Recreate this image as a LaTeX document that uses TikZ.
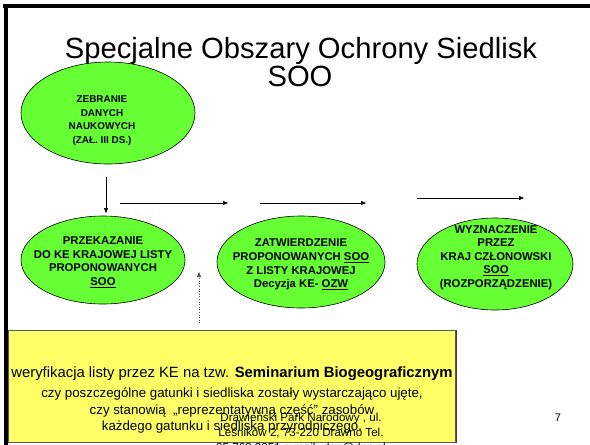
\documentclass[tikz,border=0pt]{standalone}
\usepackage{fontspec}
\setmainfont{Liberation Sans}
\usetikzlibrary{shapes.geometric,arrows.meta}
\definecolor{ovalgreen}{HTML}{66FF33}
\definecolor{noteyellow}{HTML}{FFFF66}
\tikzset{
  oval/.style={ellipse, draw=black, line width=0.6pt, fill=ovalgreen, inner sep=0pt},
  ovaltext/.style={align=center, font=\bfseries\fontsize{11.3}{13.6}\selectfont, inner sep=0pt},
  flow/.style={line width=0.6pt, -{Triangle[length=5pt,width=4pt]}},
  frameline/.style={line width=4pt, black},
  foottext/.style={inner sep=0pt, anchor=base, font=\fontsize{11.6}{15}\selectfont},
}
\begin{document}
\begin{tikzpicture}[x=1pt,y=-1pt]
\useasboundingbox (0,0) rectangle (590,445);
% frame
\draw[frameline] (3,5.5) -- (590,5.5);
\draw[frameline] (6,3.5) -- (6,445);
% title
\node[anchor=base, inner sep=0pt, font=\fontsize{29.2}{30}\selectfont] (title1) at (301,58) {Specjalne Obszary Ochrony Siedlisk};
\node[anchor=base, inner sep=0pt, font=\fontsize{29.2}{30}\selectfont] (title2) at (300,86) {SOO};
% ovals
\node[oval, minimum width=174pt, minimum height=102pt] (e1) at (108,113) {};
\node[ovaltext, font=\bfseries\fontsize{9.9}{13.6}\selectfont] (t1) at (102,120.5) {ZEBRANIE\\DANYCH\\NAUKOWYCH\\(ZAŁ. III DS.)};
\node[oval, minimum width=164pt, minimum height=88pt] (e2) at (103,260) {};
\node[ovaltext] (t2) at (103,262) {PRZEKAZANIE\\DO KE KRAJOWEJ LISTY\\PROPONOWANYCH\\\underline{SOO}};
\node[oval, minimum width=168pt, minimum height=92pt] (e3) at (301,262) {};
\node[ovaltext] (t3) at (301,264.5) {ZATWIERDZENIE\\PROPONOWANYCH \underline{SOO}\\Z LISTY KRAJOWEJ\\Decyzja KE- \underline{OZW}};
\node[oval, minimum width=156pt, minimum height=92pt] (e4) at (495,264) {};
\node[ovaltext] (t4) at (496,257.5) {WYZNACZENIE\\PRZEZ\\KRAJ CZŁONOWSKI\\\underline{SOO}\\(ROZPORZĄDZENIE)};
% arrows
\coordinate (a1s) at (106,177);
\coordinate (a1e) at (106,213);
\coordinate (a2s) at (120,203);
\coordinate (a2e) at (228,203);
\coordinate (a3s) at (260,203);
\coordinate (a3e) at (366,203);
\coordinate (a4s) at (417,198);
\coordinate (a4e) at (524,198);
\coordinate (dts) at (199,323);
\coordinate (dte) at (199,272);
\draw[flow] (a1s) -- (a1e);
\draw[flow] (a2s) -- (a2e);
\draw[flow] (a3s) -- (a3e);
\draw[flow] (a4s) -- (a4e);
\draw[flow, dotted, gray!60!black] (dts) -- (dte);
% note box
\node[draw=gray!70!black, line width=1pt, fill=noteyellow, minimum width=447pt, minimum height=112pt, inner sep=0pt, anchor=north west] (note) at (8,330) {};
\draw[line width=1pt, black!75] (note.north east) -- (note.south east);
\node[align=center, inner sep=0pt, font=\fontsize{13.3}{16.5}\selectfont] (notetext) at (232,400) {{\fontsize{14.85}{16.5}\selectfont weryfikacja listy przez KE na tzw. \textbf{Seminarium Biogeograficznym}}\\[4pt]czy poszczególne gatunki i siedliska zostały wystarczająco ujęte,\\czy stanowią\ \ „reprezentatywną część” zasobów\\każdego gatunku i siedliska przyrodniczego.};
% footer
\node[foottext] (foot1) at (301,421) {Drawieński Park Narodowy , ul.};
\node[foottext] (foot2) at (301,436) {Leśników 2, 73-220 Drawno Tel.};
\node[foottext] (foot3) at (301,451) {95 768 2051 e-mail: dpn@dpn.pl};
\node[inner sep=0pt, anchor=base, font=\fontsize{11}{12}\selectfont] (pagenum) at (558,421) {7};
\end{tikzpicture}
\end{document}
